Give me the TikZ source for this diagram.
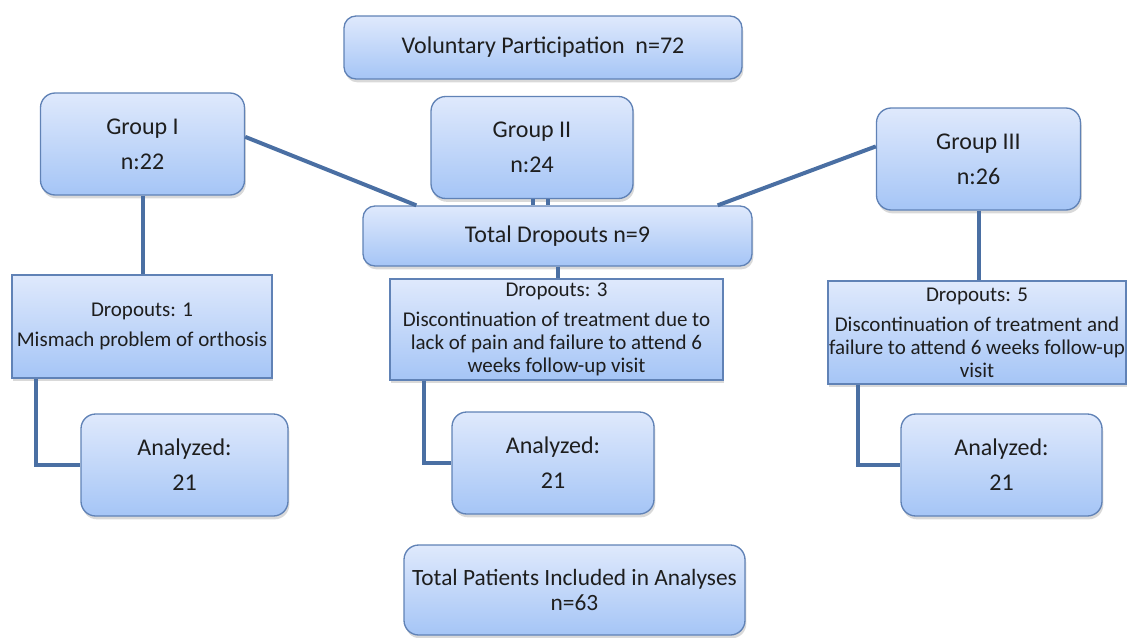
\documentclass[tikz,border=0pt]{standalone}
\usepackage{fontspec}
\setmainfont{Carlito}
\usetikzlibrary{shadows}

\definecolor{boxtop}{RGB}{223,233,252}
\definecolor{boxbottom}{RGB}{165,197,246}
\definecolor{boxline}{RGB}{96,130,182}
\definecolor{linkblue}{RGB}{74,111,163}
\definecolor{inktext}{RGB}{30,30,30}

\tikzset{every picture/.style={line width=0.75pt}}
\tikzset{
  flowbox/.style={draw=boxline, line width=1pt, top color=boxtop, bottom color=boxbottom,
    drop shadow={opacity=0.3, shadow xshift=1pt, shadow yshift=-2.5pt},
    inner sep=0pt, align=center, text=inktext, font=\fontsize{18}{26.25}\selectfont},
  roundbox/.style={flowbox, rounded corners=11pt},
  squarebox/.style={flowbox, rounded corners=0pt, font=\fontsize{15.75}{17.25}\selectfont},
  groupbox/.style={roundbox, minimum width=153pt, minimum height=76.5pt},
  link/.style={draw=linkblue, line width=3pt}
}

\begin{document}
\begin{tikzpicture}[x=0.75pt,y=0.75pt,yscale=-1,xscale=1]
    \useasboundingbox (0,0) rectangle (1128,637);

    %Rounded Rect [top]
    \node [roundbox, minimum width=298.5pt, minimum height=47.25pt, rounded corners=9pt] (vol) at (543,47.5) {Voluntary Participation\ \ n=72};

    %Rounded Rect [groups]
    \node [groupbox] (g1) at (142.5,144) {Group I\\n:22};
    \node [groupbox, minimum width=151.5pt] (g2) at (532,147.5) {Group II\\n:24};
    \node [groupbox] (g3) at (978.5,159) {Group III\\n:26};

    %Rounded Rect [total dropouts]
    \node [roundbox, minimum width=291.75pt, minimum height=45pt, rounded corners=9pt] (td) at (557.5,236) {Total Dropouts n=9};

    %Rect [dropouts]
    \node [squarebox, minimum width=195pt, minimum height=77.25pt] (d1) at (142,326.5) {Dropouts: 1\\[5.25pt]Mismach problem of orthosis};
    \node [squarebox, minimum width=249.75pt, minimum height=75.75pt] (d3) at (556.5,329.5) {Dropouts: 3\\[5.25pt]Discontinuation of treatment due to\\lack of pain and failure to attend 6\\weeks follow-up visit};
    \node [squarebox, minimum width=223.5pt, minimum height=77.25pt] (d5) at (977,332.5) {Dropouts: 5\\[5.25pt]Discontinuation of treatment and\\failure to attend 6 weeks follow-up\\visit};

    %Rounded Rect [analyzed]
    \node [groupbox, minimum width=155.25pt] (a1) at (184.5,465) {Analyzed:\\21};
    \node [groupbox, minimum width=151.5pt] (a2) at (553,463) {Analyzed:\\21};
    \node [groupbox, minimum width=150.75pt] (a3) at (1001.5,465) {Analyzed:\\21};

    %Rounded Rect [bottom]
    \node [roundbox, minimum width=255.75pt, minimum height=67.5pt, font=\fontsize{17.5}{18.75}\selectfont] (tp) at (574.5,590) {Total Patients Included in Analyses\\n=63};

    %Straight Lines
    \coordinate (g2a) at ([xshift=0.75pt]g2.south);
    \coordinate (g2b) at ([xshift=12pt]g2.south);
    \coordinate (d1foot) at ([xshift=18.75pt]d1.south west);
    \coordinate (d3foot) at ([xshift=26.25pt]d3.south west);
    \coordinate (d5foot) at ([xshift=23.25pt]d5.south west);

    \draw [link] (g1.4) -- ([xshift=40.5pt]td.north west);
    \draw [link] (g3.173) -- ([xshift=-26.25pt]td.north east);
    \draw [link] (g2a) -- (g2a |- td.north);
    \draw [link] (g2b) -- (g2b |- td.north);
    \draw [link] (g1) -- (g1 |- d1.north);
    \draw [link] (td) -- (td |- d3.north);
    \draw [link] (g3) -- (g3 |- d5.north);
    \draw [link] (d1foot) |- (a1.west);
    \draw [link] (d3foot) |- (a2.west);
    \draw [link] (d5foot) |- (a3.west);
\end{tikzpicture}
\end{document}
